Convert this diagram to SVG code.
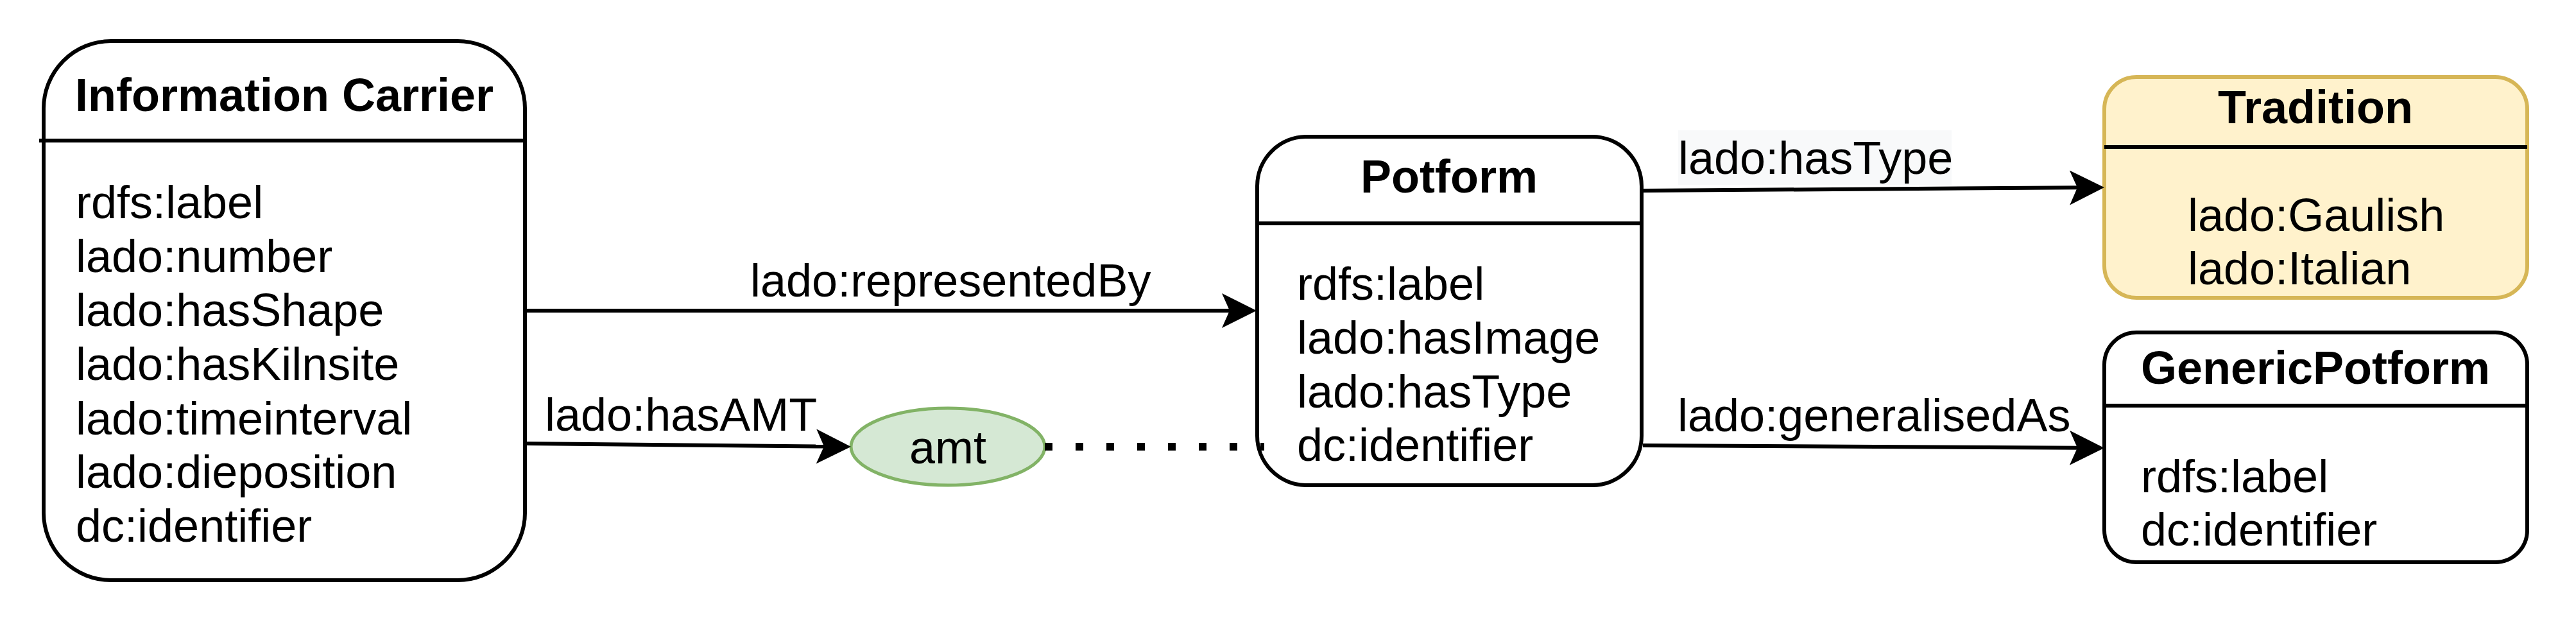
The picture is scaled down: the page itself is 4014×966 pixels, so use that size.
<svg xmlns="http://www.w3.org/2000/svg" width="4014" height="966" viewBox="0 0 4014 966">
<style>
  .box{fill:#ffffff;stroke:#000000;stroke-width:6}
  .trad{fill:#fff2cc;stroke:#d6b656;stroke-width:6}
  .div{stroke:#000000;stroke-width:6;fill:none}
  .edge{stroke:#000000;stroke-width:6;fill:none}
  .dot{stroke:#000000;stroke-width:12;fill:none;stroke-dasharray:12 36}
  text{font-family:"Liberation Sans",Arial,Helvetica,sans-serif;font-size:72px;fill:#000000}
  .title{font-weight:bold;text-anchor:middle}
  .mid{text-anchor:middle}
</style>
<defs>
  <marker id="arrow" markerUnits="userSpaceOnUse" viewBox="-14 -29 58 58" markerWidth="58" markerHeight="58" refX="0" refY="0" orient="auto">
    <path d="M42,0 L-12,-27 L0,0 L-12,27 Z" fill="#000000"/>
  </marker>
</defs>
<rect width="4014" height="966" fill="#ffffff"/>

<g id="information-carrier">
  <rect class="box" x="68" y="64" width="750" height="840" rx="105" ry="105"/>
  <line class="div" x1="61" y1="219" x2="818" y2="219"/>
  <text class="title" x="443" y="173">Information Carrier</text>
  <text x="118" y="340">rdfs:label</text>
  <text x="118" y="424">lado:number</text>
  <text x="118" y="508">lado:hasShape</text>
  <text x="118" y="592">lado:hasKilnsite</text>
  <text x="118" y="677">lado:timeinterval</text>
  <text x="118" y="760">lado:dieposition</text>
  <text x="118" y="844">dc:identifier</text>
</g>

<g id="potform">
  <rect class="box" x="1959" y="213" width="599" height="543" rx="77" ry="77"/>
  <line class="div" x1="1959" y1="348" x2="2558" y2="348"/>
  <text class="title" x="2258" y="300">Potform</text>
  <text x="2021" y="467">rdfs:label</text>
  <text x="2021" y="551">lado:hasImage</text>
  <text x="2021" y="635">lado:hasType</text>
  <text x="2021" y="718">dc:identifier</text>
</g>

<g id="tradition">
  <rect class="trad" x="3279" y="120" width="659" height="344" rx="50" ry="50"/>
  <line class="div" x1="3279" y1="229" x2="3938" y2="229"/>
  <text class="title" x="3608" y="192">Tradition</text>
  <text x="3409" y="360">lado:Gaulish</text>
  <text x="3409" y="443">lado:Italian</text>
</g>

<g id="generic-potform">
  <rect class="box" x="3279" y="518" width="659" height="358" rx="50" ry="50"/>
  <line class="div" x1="3279" y1="632" x2="3938" y2="632"/>
  <text class="title" x="3608" y="598">GenericPotform</text>
  <text x="3336" y="767">rdfs:label</text>
  <text x="3336" y="850">dc:identifier</text>
</g>

<g id="amt">
  <ellipse cx="1477" cy="696" rx="151" ry="60" fill="#d5e8d4" stroke="#82b366" stroke-width="5"/>
  <text class="mid" x="1477" y="722">amt</text>
</g>

<g id="connectors">
  <path class="edge" d="M819,484 L1916,484" marker-end="url(#arrow)"/>
  <text x="1169" y="462">lado:representedBy</text>

  <path class="edge" d="M819,691 L1284,695.6" marker-end="url(#arrow)"/>
  <text x="849" y="671">lado:hasAMT</text>

  <path class="dot" d="M1628,696 L1970,696"/>

  <path class="edge" d="M2560,297 L3237,292.3" marker-end="url(#arrow)"/>
  <rect x="2615" y="203" width="426" height="85" fill="#f8f9fa"/>
  <text x="2615" y="271">lado:hasType</text>

  <path class="edge" d="M2560,694 L3237,697.8" marker-end="url(#arrow)"/>
  <text x="2614" y="672">lado:generalisedAs</text>
</g>
</svg>
